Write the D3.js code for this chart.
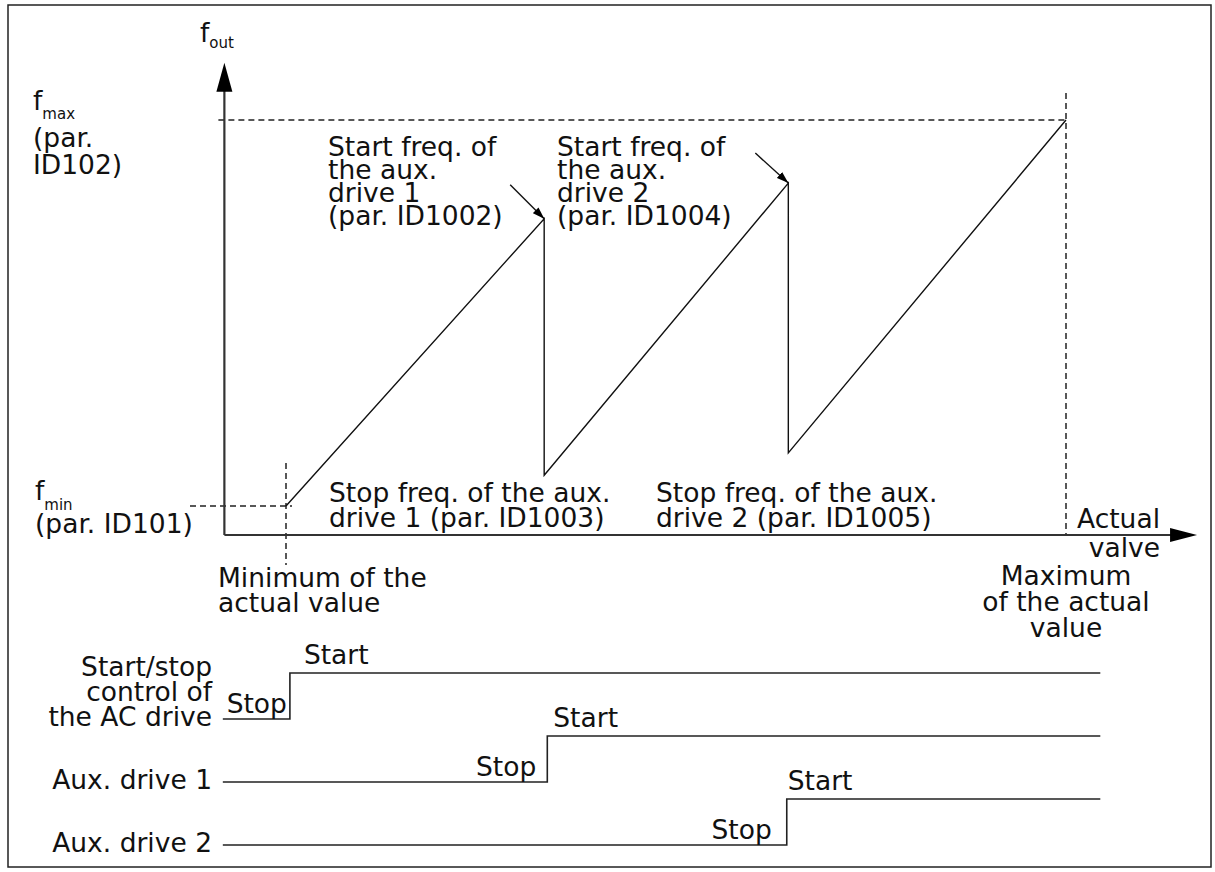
<!DOCTYPE html>
<html><head><meta charset="utf-8">
<script src="https://cdn.jsdelivr.net/npm/d3@7"></script>
<style>
html,body{margin:0;padding:0;background:#fff;}
text{font-family:"DejaVu Sans",Verdana,sans-serif;fill:#111;}
</style></head>
<body>
<svg id="c" width="1215" height="872"></svg>
<script>
// ---- data ----
const sawX = [0, 33.1, 33.1, 64.4, 64.4, 100];      // actual value (% of range)
const sawY = [3.5, 38.1, 7.2, 42.4, 9.9, 50];       // output frequency
const fMaxVal = 50;
const fMinVal = 3.5;
const minActual = 0;
const maxActual = 100;
const signalNames = ["Start/stop control of the AC drive", "Aux. drive 1", "Aux. drive 2"];
const signalLabelLines = [["Start/stop", "control of", "the AC drive"], ["Aux. drive 1"], ["Aux. drive 2"]];
const switchAt = [0.5, 33.5, 64.2];
const startLabelLines = [["Start freq. of", "the aux.", "drive 1", "(par. ID1002)"], ["Start freq. of", "the aux.", "drive 2", "(par. ID1004)"]];
const stopLabelLines = [["Stop freq. of the aux.", "drive 1 (par. ID1003)"], ["Stop freq. of the aux.", "drive 2 (par. ID1005)"]];

// ---- layout ----
const svg = d3.select("#c");
const FS = 26.5, SUB = 15;
const x = d3.scaleLinear().domain([minActual, maxActual]).range([286, 1066]);
const y = d3.scaleLinear().domain([0, fMaxVal]).range([535, 120]);
const xAxis0 = -7.9, xAxisEnd = 116.8, yAxisTop = 56.9;
const rowY = d3.scalePoint().domain(signalNames).range([719, 845]);
const stepH = 46;
const sigStart = -8.1, sigEnd = 104.4;
const stopGap = [3, 11, 15], startGap = [14, 6, 1];

svg.append("rect").attr("x", 8).attr("y", 5).attr("width", 1203).attr("height", 862)
  .attr("fill", "none").attr("stroke", "#222").attr("stroke-width", 1.5);

const defs = svg.append("defs");
defs.append("marker").attr("id", "ah").attr("viewBox", "0 0 12 8").attr("refX", 12).attr("refY", 4)
  .attr("markerWidth", 12).attr("markerHeight", 8).attr("markerUnits", "userSpaceOnUse").attr("orient", "auto")
  .append("path").attr("d", "M0,0L12,4L0,8Z").attr("fill", "#000");

const X0 = x(xAxis0), Y0 = y(0);
const dash = {"stroke": "#222", "stroke-width": 1.5, "stroke-dasharray": "6,4", "fill": "none"};
function line(x1, y1, x2, y2, st) {
  const l = svg.append("line").attr("x1", x1).attr("y1", y1).attr("x2", x2).attr("y2", y2);
  Object.entries(st).forEach(([k, v]) => l.attr(k, v));
  return l;
}
line(X0 - 6, y(fMaxVal), x(maxActual), y(fMaxVal), dash);
line(x(maxActual), y(fMaxVal) - 27, x(maxActual), Y0, dash);
line(190, y(fMinVal), x(minActual) + 6, y(fMinVal), dash);
line(x(minActual), y(fMinVal) - 43, x(minActual), Y0 + 30, dash);

// axes
const ax = {"stroke": "#333", "stroke-width": 2.2};
line(X0, Y0, X0, y(yAxisTop) + 20, ax);
line(X0, Y0, x(xAxisEnd) - 20, Y0, ax);
svg.append("path").attr("d", `M${X0},${y(yAxisTop)}L${X0 + 8},${y(yAxisTop) + 29}L${X0 - 8},${y(yAxisTop) + 29}Z`).attr("fill", "#000");
svg.append("path").attr("d", `M${x(xAxisEnd)},${Y0}L${x(xAxisEnd) - 27},${Y0 - 7}L${x(xAxisEnd) - 27},${Y0 + 7}Z`).attr("fill", "#000");

// sawtooth
const pts = sawX.map((v, i) => [x(v), y(sawY[i])]);
svg.append("path").attr("d", d3.line()(pts)).attr("fill", "none").attr("stroke", "#111").attr("stroke-width", 1.4);

// annotation arrows to the peaks
[[1, -34, -34], [3, -33, -30]].forEach(([i, dx, dy]) => {
  const [px, py] = pts[i];
  line(px + dx, py + dy, px, py, {"stroke": "#111", "stroke-width": 1.4}).attr("marker-end", "url(#ah)");
});

function multi(lines, x0, y0, lh, anchor) {
  const t = svg.append("text").attr("font-size", FS).attr("text-anchor", anchor || "start");
  lines.forEach((s, i) => t.append("tspan").attr("x", x0).attr("y", y0 + i * lh).text(s));
  return t;
}
function fsub(main, sub, x0, y0, dy) {
  const t = svg.append("text").attr("x", x0).attr("y", y0).attr("font-size", FS);
  t.append("tspan").text(main);
  t.append("tspan").attr("font-size", SUB).attr("dy", dy).text(sub);
}

fsub("f", "out", 200, 42, 6);
fsub("f", "max", 33, 110, 9);
multi(["(par.", "ID102)"], 33, 147, 27);
fsub("f", "min", 35, 500, 10);
multi(["(par. ID101)"], 35, 533, 25);

multi(startLabelLines[0], 328, 156, 23);
multi(startLabelLines[1], 557, 156, 23);
multi(stopLabelLines[0], 329, 502, 25);
multi(stopLabelLines[1], 656, 502, 25);
multi(["Actual", "valve"], 1160, 528, 29, "end");
multi(["Minimum of the", "actual value"], 218, 587, 25);
multi(["Maximum", "of the actual", "value"], x(maxActual), 585, 26, "middle");

// start/stop signals
signalNames.forEach((n, i) => {
  const lo = rowY(n), hi = lo - stepH, sx = x(switchAt[i]);
  const p = [[x(sigStart), lo], [sx, lo], [sx, hi], [x(sigEnd), hi]];
  svg.append("path").attr("d", d3.line()(p)).attr("fill", "none").attr("stroke", "#222").attr("stroke-width", 1.6);
  const ls = signalLabelLines[i];
  multi(ls, 212, lo + 7 - (ls.length - 1) * 25, 25, "end");
  svg.append("text").attr("font-size", FS).attr("text-anchor", "end").attr("x", sx - stopGap[i]).attr("y", lo - 6).text("Stop");
  svg.append("text").attr("font-size", FS).attr("x", sx + startGap[i]).attr("y", hi - 9).text("Start");
});
</script>
</body></html>
